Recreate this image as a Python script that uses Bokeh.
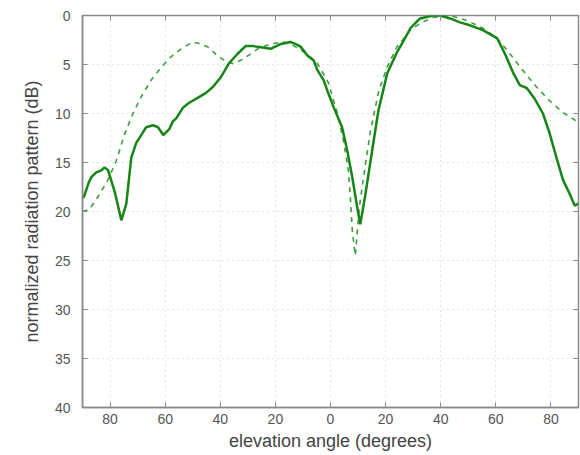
from bokeh.plotting import figure
from bokeh.models import (Range1d, LinearAxis, FixedTicker, CustomJSTickFormatter)
from bokeh.embed import file_html
from bokeh.resources import INLINE

# measured pattern (solid)
meas_angle = [-90, -89.5, -87.8, -86.8, -85, -83.2, -82, -80.7, -78.3, -75.9, -74.1,
              -72.3, -70.5, -68.7, -66.9, -64.4, -62.6, -60.7, -58.5, -57.2, -56,
              -53.5, -51.3, -48.2, -45.2, -42.7, -39.8, -36.9, -33.7, -30.7, -28.5,
              -26.4, -21.7, -18, -14.5, -12, -10.8, -8.3, -6.1, -4.7, -2.5, -1.1, 1.2,
              4.2, 6.1, 7.9, 9.7, 10.8, 12.7, 15.1, 17.4, 20.6, 24.2, 26.5, 29, 32.5,
              37.2, 39.8, 43.4, 47, 50.6, 55.3, 60.4, 63.3, 66.2, 68.7, 71.2, 74.1,
              77.1, 79.5, 82, 84.4, 86.8, 88.6, 90]
meas_db = [18.6, 18.5, 17.1, 16.5, 16.0, 15.8, 15.5, 15.8, 18.0, 20.9, 19.2,
           14.5, 13.0, 12.2, 11.4, 11.2, 11.4, 12.2, 11.6, 10.8, 10.5,
           9.4, 8.9, 8.4, 7.9, 7.3, 6.3, 4.9, 3.9, 3.1, 3.1,
           3.2, 3.4, 2.9, 2.7, 3.0, 3.2, 4.1, 4.6, 5.6, 6.6, 7.7, 9.4,
           11.4, 13.8, 16.5, 19.6, 21.3, 18.2, 13.8, 9.7, 5.9, 3.7, 2.6, 1.3, 0.3,
           0.0, 0.0, 0.3, 0.7, 1.0, 1.5, 2.3, 3.9, 5.8, 7.1, 7.4, 8.5,
           10.0, 12.0, 14.5, 16.8, 18.2, 19.4, 19.2]

# model pattern (dashed)
model_angle = [-90, -87.5, -84.4, -80.8, -77.7, -74.7, -71.7, -68.7, -65.1, -61.5,
               -57.8, -54.2, -50.6, -48.2, -44.6, -41, -37.4, -35, -31.4, -26.4,
               -21.7, -16.9, -13.3, -10.8, -7.5, -4.7, -0.7, 2.5, 4.7, 6.5, 7.2, 7.9,
               9.0, 10.5, 12.5, 14.5, 17.5, 20.5, 24.1, 29, 32.5, 37.2, 43.4, 49.4,
               55.3, 60.4, 65.1, 69.8, 74.8, 79.5, 84.4, 90]
model_db = [20.0, 19.8, 18.5, 16.8, 14.8, 12.1, 10.0, 8.3, 6.6, 5.3,
            4.2, 3.4, 2.8, 2.8, 3.2, 4.1, 4.8, 4.9, 4.4, 3.4,
            2.9, 2.7, 3.1, 3.5, 4.2, 4.9, 6.9, 10.0, 12.8, 15.8, 18.5, 21.9,
            24.5, 19.5, 15.5, 11.8, 7.7, 5.3, 3.2, 1.5, 0.8, 0.2, 0.0, 0.5,
            1.3, 2.3, 3.9, 5.6, 7.3, 8.7, 9.9, 10.9]

x_ticks = [-80, -60, -40, -20, 0, 20, 40, 60, 80]
y_ticks = [0, 5, 10, 15, 20, 25, 30, 35, 40]

GREEN = "#168416"
GREEN_LIGHT = "#3e9e3e"
FONT = "Liberation Sans"
AXIS_COL = "#8a8a8a"
TXT_COL = "#555555"

p = figure(width=580, height=455, output_backend="svg", toolbar_location=None,
           x_range=Range1d(-90, 90), y_range=Range1d(40, 0),
           min_border_left=82, min_border_right=2, min_border_top=15,
           min_border_bottom=48)

p.line(model_angle, model_db, line_color=GREEN_LIGHT, line_width=1.6,
       line_dash="5 5")
p.line(meas_angle, meas_db, line_color=GREEN, line_width=2.5)

p.outline_line_color = AXIS_COL
p.outline_line_width = 1.5

xt = FixedTicker(ticks=x_ticks)
yt = FixedTicker(ticks=y_ticks)
fmt = CustomJSTickFormatter(code="return Math.abs(tick).toString();")
blank = CustomJSTickFormatter(code="return '';")

for ax in p.xaxis:
    ax.ticker = xt
    ax.formatter = fmt
for ax in p.yaxis:
    ax.ticker = yt

p.xaxis.axis_label = "elevation angle (degrees)"
p.yaxis.axis_label = "normalized radiation pattern (dB)"

for ax in list(p.xaxis) + list(p.yaxis):
    ax.axis_line_color = AXIS_COL
    ax.axis_line_width = 1.5
    ax.major_tick_line_color = AXIS_COL
    ax.major_tick_in = 5
    ax.major_tick_out = 0
    ax.minor_tick_line_color = None
    ax.major_label_text_font = FONT
    ax.major_label_text_font_size = "14px"
    ax.major_label_text_color = TXT_COL
    ax.axis_label_text_font = FONT
    ax.axis_label_text_font_size = "18px"
    ax.axis_label_text_font_style = "normal"
    ax.axis_label_text_color = "#444444"

p.yaxis.major_label_standoff = 12
p.xaxis.major_label_standoff = 6
p.yaxis.axis_label_standoff = 10
p.xaxis.axis_label_standoff = 4

# mirror axes (ticks only) on top and right
top = LinearAxis(ticker=xt, formatter=blank,
                 axis_line_color=None, major_tick_line_color=AXIS_COL,
                 major_tick_in=5, major_tick_out=0, minor_tick_line_color=None,
                 major_label_standoff=0)
right = LinearAxis(ticker=yt, formatter=blank,
                   axis_line_color=None, major_tick_line_color=AXIS_COL,
                   major_tick_in=5, major_tick_out=0, minor_tick_line_color=None,
                   major_label_standoff=0)
p.add_layout(top, "above")
p.add_layout(right, "right")

p.xgrid.ticker = xt
p.ygrid.ticker = yt
p.grid.grid_line_color = "#c8c8c8"
p.grid.grid_line_dash = "1 4"
p.grid.grid_line_width = 1

open("out.html", "w").write(file_html(p, INLINE))
